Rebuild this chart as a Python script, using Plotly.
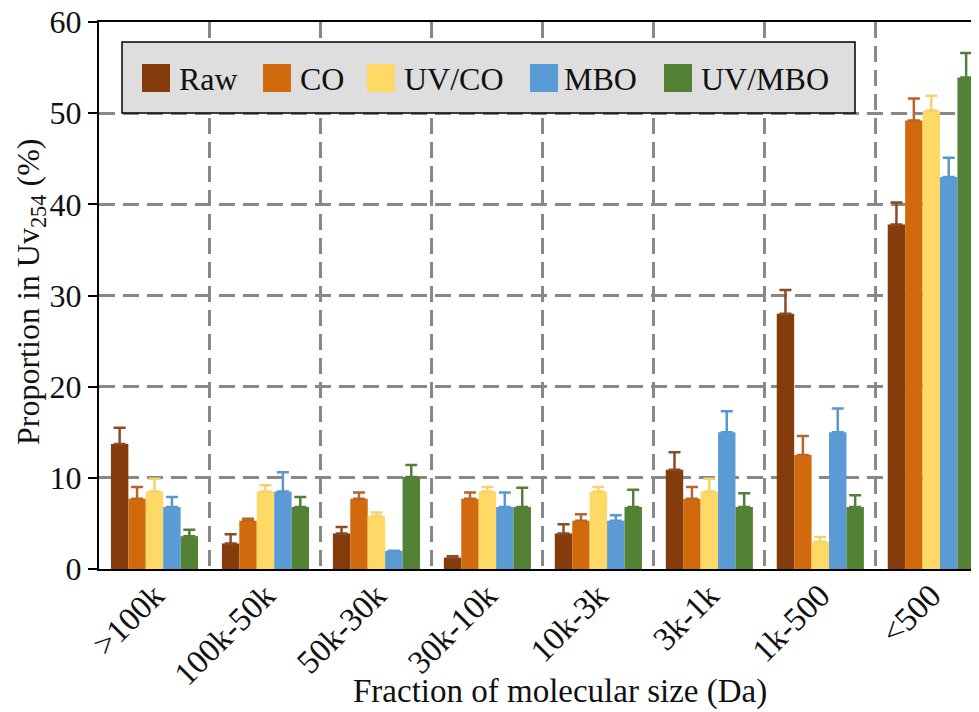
import plotly.graph_objects as go

categories = [">100k", "100k-50k", "50k-30k", "30k-10k", "10k-3k", "3k-1k", "1k-500", "<500"]
series_names = ["Raw", "CO", "UV/CO", "MBO", "UV/MBO"]

raw = [13.7, 2.8, 3.9, 1.25, 3.9, 10.9, 28.0, 37.8]
raw_err = [1.8, 1.0, 0.7, 0.15, 1.0, 1.9, 2.6, 2.4]
co = [7.7, 5.3, 7.7, 7.7, 5.3, 7.7, 12.5, 49.2]
co_err = [1.3, 0.2, 0.7, 0.7, 0.7, 1.3, 2.1, 2.4]
uvco = [8.5, 8.5, 5.8, 8.5, 8.5, 8.5, 3.0, 50.3]
uvco_err = [1.4, 0.7, 0.4, 0.5, 0.5, 1.4, 0.5, 1.6]
mbo = [6.8, 8.5, 2.0, 6.8, 5.3, 15.0, 15.0, 43.0]
mbo_err = [1.1, 2.1, 0.0, 1.6, 0.6, 2.3, 2.6, 2.1]
uvmbo = [3.6, 6.8, 10.1, 6.8, 6.8, 6.8, 6.8, 53.9]
uvmbo_err = [0.7, 1.1, 1.3, 2.1, 1.9, 1.5, 1.3, 2.7]

values = [raw, co, uvco, mbo, uvmbo]
errors = [raw_err, co_err, uvco_err, mbo_err, uvmbo_err]
colors = ["#843C0C", "#D06A0C", "#FFD966", "#5B9BD5", "#548235"]
err_colors = ["#8E4A26", "#B8642A", "#F2D36E", "#5A97D0", "#557E3C"]

FONT = "Liberation Serif"
GRID = dict(showgrid=True, gridcolor="#888888", gridwidth=2.5, griddash="16px,8px")

fig = go.Figure()
for name, vals, errs, col, ecol in zip(series_names, values, errors, colors, err_colors):
    fig.add_trace(go.Bar(
        x=categories, y=vals, name=name, showlegend=False,
        marker=dict(color=col, line=dict(width=0)),
        error_y=dict(type="data", array=errs, arrayminus=[0] * len(errs), symmetric=False,
                     color=ecol, thickness=2.5, width=6),
    ))

# The page body adds an 8 px margin, so the figure is made 8 px smaller and
# everything is laid out in page pixels minus that offset.
OFF = 8
PAGE_W, PAGE_H = 979, 712
L, R, T, B = 99, 979, 22, 569          # plot area in page pixels
W, H = R - L, B - T
def px(x):
    return (x - L) / W
def py(y):
    return (B - y) / H

shapes = [dict(type="rect", xref="paper", yref="paper",
               x0=px(122), x1=px(855), y0=py(113), y1=py(42),
               fillcolor="#DEDEDE", line=dict(color="black", width=1.5), layer="above")]
annotations = []
sym_left = [142, 263, 367, 530, 664]
text_left = [177, 298, 402, 562, 699]
for name, col, sx, tx in zip(series_names, colors, sym_left, text_left):
    shapes.append(dict(type="rect", xref="paper", yref="paper",
                       x0=px(sx), x1=px(sx + 28), y0=py(92), y1=py(64),
                       fillcolor=col, line=dict(width=0), layer="above"))
    annotations.append(dict(xref="paper", yref="paper", x=px(tx), y=py(79),
                            text=name, showarrow=False, xanchor="left", yanchor="middle",
                            font=dict(family=FONT, size=32, color="#111111")))

# axis titles
annotations.append(dict(xref="paper", yref="paper", x=px(560), y=py(711),
                        text="Fraction of molecular size (Da)", showarrow=False,
                        xanchor="center", yanchor="bottom", borderpad=0,
                        font=dict(family=FONT, size=33, color="#111111")))
annotations.append(dict(xref="paper", yref="paper", x=px(30), y=py(292),
                        text="Proportion in Uv<sub>254</sub> (%)", showarrow=False, textangle=-90,
                        xanchor="center", yanchor="middle",
                        font=dict(family=FONT, size=32, color="#111111")))

fig.update_layout(
    width=PAGE_W - OFF, height=PAGE_H - OFF,
    margin=dict(l=L - OFF, r=0, t=T - OFF, b=PAGE_H - B, autoexpand=False),
    paper_bgcolor="white", plot_bgcolor="white",
    barmode="group", bargap=0.215, bargroupgap=0,
    font=dict(family=FONT, size=30, color="#111111"),
    shapes=shapes, annotations=annotations,
)
fig.update_xaxes(
    type="category", range=[-0.5, 7.43], tickson="boundaries", automargin=False,
    showline=True, mirror=True, linecolor="black", linewidth=2,
    ticks="", tickangle=-45, tickfont=dict(family=FONT, size=33),
    ticklabelstandoff=-8,
    **GRID,
)
fig.update_yaxes(
    range=[0, 60], dtick=10, automargin=False,
    showline=True, mirror=False, linecolor="black", linewidth=2,
    ticks="outside", ticklen=9, tickwidth=2, tickcolor="black",
    tickfont=dict(family=FONT, size=32), zeroline=False, ticklabeloverflow="allow",
    **GRID,
)

fig.write_html("out.html")
